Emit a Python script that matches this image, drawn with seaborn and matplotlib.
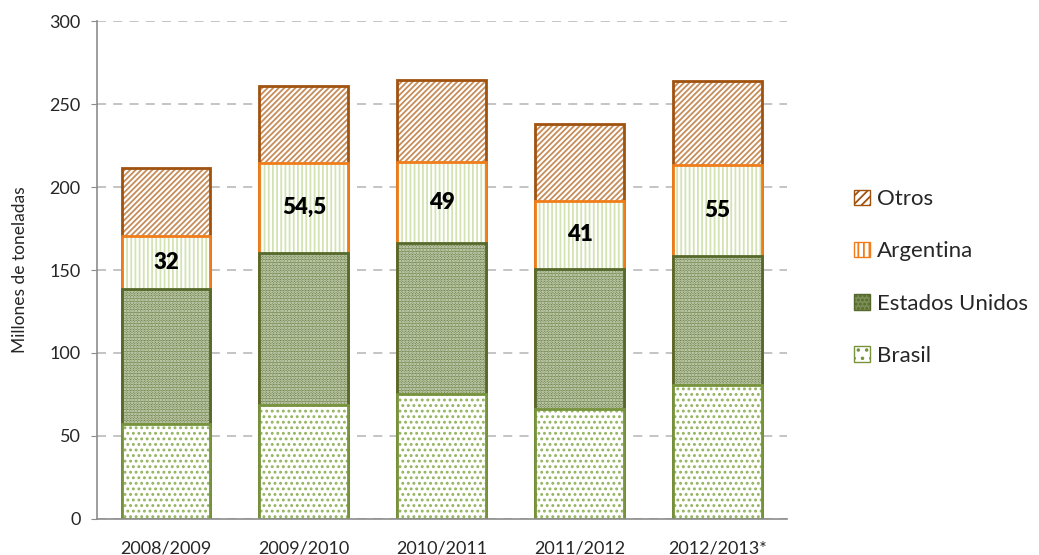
import pandas as pd
import matplotlib
matplotlib.use('Agg')
import matplotlib.pyplot as plt
import seaborn as sns
from matplotlib.patches import Patch

# Datos (millones de toneladas)
campanas = ['2008/2009', '2009/2010', '2010/2011', '2011/2012', '2012/2013*']
brasil = [57.5, 68.7, 75.5, 66.3, 80.7]
estados_unidos = [81.0, 91.5, 90.8, 84.3, 77.7]
argentina = [32.0, 54.5, 49.0, 41.0, 55.0]
otros = [41.0, 46.3, 49.2, 46.4, 50.6]
etiquetas_arg = ['32', '54,5', '49', '41', '55']

df = pd.DataFrame({'campana': campanas, 'Brasil': brasil,
                   'Estados Unidos': estados_unidos,
                   'Argentina': argentina, 'Otros': otros})
df['c_brasil'] = df['Brasil']
df['c_eeuu'] = df['c_brasil'] + df['Estados Unidos']
df['c_arg'] = df['c_eeuu'] + df['Argentina']
df['c_otros'] = df['c_arg'] + df['Otros']

sns.set_style('white')
plt.rcParams['font.family'] = ['Lato', 'DejaVu Sans']
plt.rcParams['hatch.linewidth'] = 1.3

fig = plt.figure(figsize=(10.39, 5.55), dpi=100)
ax = fig.add_axes([0.0934, 0.065, 0.6637, 0.897])

# (columna acumulada, relleno, color de trama, trama, borde)
capas = [
    ('c_otros', 'white', '#C68D5A', '//////', '#A0520F'),
    ('c_arg', 'white', '#D3E3B3', '||||', '#F07D1A'),
    ('c_eeuu', '#6E8348', '#E2E7D6', '......', '#56692B'),
    ('c_brasil', 'white', '#93B35E', '...', '#77933C'),
]

for col, cara, trama_color, trama, borde in capas:
    n0 = len(ax.patches)
    sns.barplot(data=df, x='campana', y=col, color=cara, saturation=1,
                width=0.645, ax=ax)
    for p in ax.patches[n0:]:
        p.set_facecolor(cara)
        p.set_edgecolor(trama_color)
        p.set_hatch(trama)
        p.set_linewidth(0)
    n1 = len(ax.patches)
    sns.barplot(data=df, x='campana', y=col, fill=False, width=0.645, ax=ax)
    for p in ax.patches[n1:]:
        p.set_edgecolor(borde)
        p.set_linewidth(2)

# Etiquetas en la sección de Argentina
for i, txt in enumerate(etiquetas_arg):
    ax.text(i, (df['c_eeuu'][i] + df['c_arg'][i]) / 2, txt, ha='center',
            va='center', fontsize=16, fontweight='heavy', color='black')

ax.set_ylim(0, 300)
ax.set_yticks(range(0, 301, 50))
ax.set_xlabel('')
ax.set_ylabel('Millones de toneladas', fontsize=12.5)
ax.yaxis.set_label_coords(-0.1, 0.5)
ax.yaxis.grid(True, linestyle=(0, (5, 4)), color='#BFBFBF', linewidth=1.3)
ax.set_axisbelow(True)
for s in ['top', 'right']:
    ax.spines[s].set_visible(False)
for s in ['left', 'bottom']:
    ax.spines[s].set_color('#8C8C8C')
    ax.spines[s].set_linewidth(1.2)
ax.tick_params(axis='y', left=True, length=4, color='#8C8C8C', labelsize=13, pad=8)
ax.tick_params(axis='x', bottom=False, labelsize=13, pad=12)

handles = [
    Patch(facecolor='white', edgecolor='#A0520F', hatch='////', label='Otros'),
    Patch(facecolor='white', edgecolor='#F07D1A', hatch='|||', label='Argentina'),
    Patch(facecolor='#7A8E55', edgecolor='#56692B', hatch='....', label='Estados Unidos'),
    Patch(facecolor='white', edgecolor='#77933C', hatch='..', label='Brasil'),
]
fig.legend(handles=handles, loc='center left', bbox_to_anchor=(0.803, 0.5),
           frameon=False, fontsize=16, handlelength=0.7, handleheight=0.7,
           handletextpad=0.3, labelspacing=1.45)

plt.savefig('out.png', dpi=100)
